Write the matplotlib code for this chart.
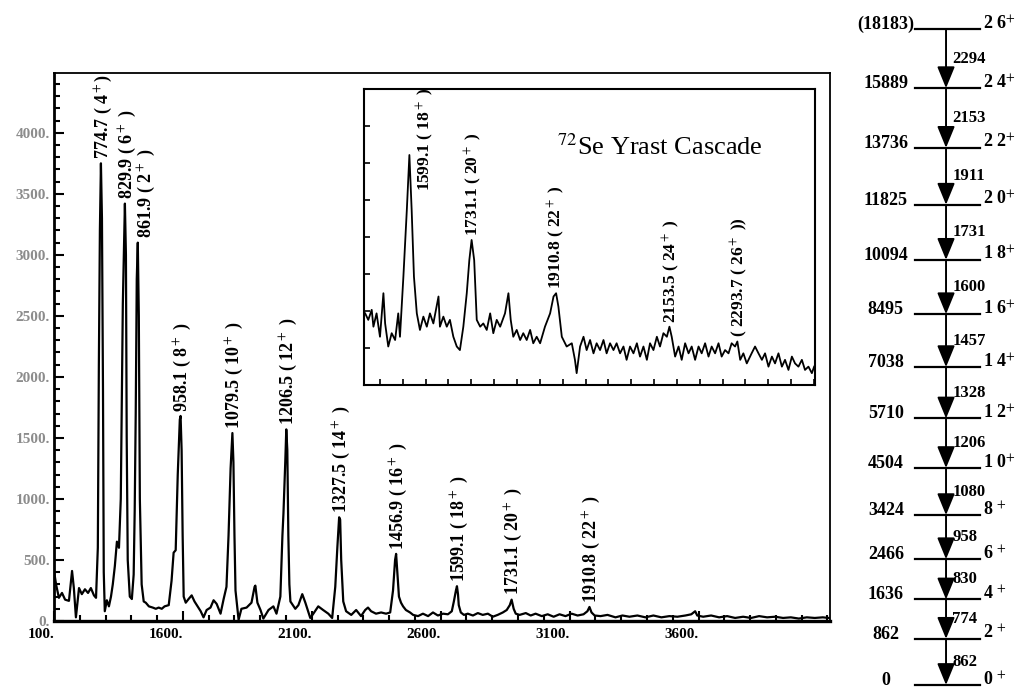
import numpy as np
import matplotlib
matplotlib.use("Agg")
import matplotlib.pyplot as plt
from matplotlib.ticker import MultipleLocator
from matplotlib.transforms import ScaledTranslation

plt.rcParams["font.family"] = "serif"
plt.rcParams["font.serif"] = ["Liberation Serif", "DejaVu Serif"]
plt.rcParams["mathtext.fontset"] = "stix"

# full gamma spectrum (channel, counts)
main_channel = [
    1100, 1108, 1119, 1131, 1143, 1158, 1170, 1177, 1185, 1197, 1208, 1220, 1232, 1243, 1255, 1263,
    1270, 1274, 1278, 1282, 1286, 1290, 1293, 1297, 1305, 1313, 1321, 1328, 1336, 1344, 1352, 1359,
    1367, 1375, 1379, 1382, 1386, 1394, 1402, 1409, 1413, 1417, 1421, 1425, 1429, 1433, 1440, 1448,
    1456, 1468, 1483, 1495, 1506, 1518, 1529, 1545, 1556, 1564, 1572, 1580, 1588, 1591, 1595, 1599,
    1603, 1611, 1622, 1634, 1645, 1657, 1669, 1680, 1692, 1707, 1719, 1731, 1746, 1758, 1769, 1777,
    1785, 1792, 1796, 1800, 1804, 1816, 1827, 1847, 1866, 1878, 1881, 1889, 1901, 1912, 1932, 1951,
    1963, 1978, 1986, 1990, 1997, 2001, 2005, 2009, 2013, 2017, 2036, 2048, 2063, 2075, 2094, 2106,
    2125, 2144, 2164, 2179, 2191, 2199, 2206, 2210, 2214, 2222, 2233, 2253, 2272, 2291, 2307, 2318,
    2330, 2349, 2369, 2388, 2404, 2415, 2423, 2427, 2431, 2438, 2446, 2454, 2465, 2481, 2493, 2512,
    2531, 2551, 2570, 2589, 2609, 2628, 2643, 2651, 2659, 2663, 2667, 2670, 2678, 2690, 2705, 2725,
    2744, 2763, 2783, 2802, 2821, 2841, 2856, 2868, 2875, 2883, 2891, 2906, 2930, 2949, 2968, 2992,
    3015, 3038, 3061, 3084, 3108, 3131, 3154, 3169, 3177, 3185, 3197, 3220, 3247, 3278, 3305, 3332,
    3363, 3394, 3425, 3456, 3487, 3518, 3549, 3572, 3587, 3595, 3618, 3649, 3680, 3711, 3742, 3773,
    3804, 3835, 3866, 3897, 3928, 3958, 3989, 4020, 4051, 4082, 4105,
]
main_counts = [
    410, 300, 190, 230, 175, 165, 410, 270, 30, 270, 220, 260, 230, 270, 210, 190,
    600, 2100, 3200, 3750, 3300, 1900, 400, 80, 170, 120, 200, 300, 450, 650, 600, 1000,
    2600, 3420, 3000, 1500, 500, 200, 180, 380, 900, 1700, 2800, 3100, 2500, 1000, 300, 160,
    150, 120, 110, 100, 110, 100, 120, 130, 330, 560, 580, 1200, 1650, 1680, 1400, 700,
    200, 150, 180, 210, 160, 120, 80, 30, 90, 110, 170, 140, 60, 180, 280, 700,
    1250, 1540, 1300, 700, 250, 10, 100, 110, 150, 280, 290, 150, 90, 20, 90, 120,
    60, 200, 700, 880, 1300, 1570, 1400, 700, 300, 160, 100, 130, 220, 150, 25, 60,
    120, 90, 60, 25, 280, 600, 850, 830, 500, 160, 80, 50, 90, 40, 90, 110,
    80, 60, 70, 60, 70, 250, 500, 550, 420, 200, 150, 120, 90, 70, 50, 40,
    60, 40, 70, 45, 60, 55, 80, 160, 250, 285, 220, 130, 70, 50, 60, 45,
    65, 50, 60, 35, 50, 70, 90, 130, 175, 100, 60, 50, 65, 45, 60, 40,
    55, 35, 55, 40, 60, 45, 55, 80, 115, 70, 45, 40, 50, 30, 45, 35,
    45, 30, 45, 30, 40, 35, 45, 55, 80, 45, 35, 45, 30, 40, 25, 35,
    25, 40, 30, 35, 25, 30, 20, 30, 25, 30, 25,
]

# expanded high-energy part (channel, counts on the inset scale)
inset_channel = [
    2508, 2519, 2531, 2537, 2548, 2560, 2572, 2578, 2589, 2601, 2613, 2624, 2630, 2642, 2654, 2663,
    2671, 2679, 2689, 2700, 2712, 2724, 2735, 2747, 2765, 2770, 2782, 2794, 2805, 2817, 2829, 2840,
    2852, 2864, 2873, 2881, 2890, 2899, 2911, 2922, 2934, 2946, 2957, 2969, 2981, 2998, 3010, 3018,
    3027, 3039, 3051, 3062, 3074, 3086, 3097, 3109, 3121, 3138, 3156, 3168, 3177, 3185, 3197, 3214,
    3232, 3243, 3249, 3261, 3273, 3284, 3296, 3308, 3319, 3331, 3343, 3354, 3366, 3378, 3389, 3401,
    3413, 3424, 3436, 3448, 3460, 3471, 3483, 3495, 3506, 3518, 3530, 3541, 3553, 3565, 3574, 3582,
    3594, 3606, 3617, 3629, 3641, 3652, 3664, 3676, 3687, 3699, 3711, 3722, 3734, 3746, 3757, 3769,
    3781, 3792, 3804, 3812, 3822, 3833, 3845, 3862, 3874, 3886, 3898, 3909, 3921, 3933, 3944, 3956,
    3968, 3979, 3991, 4003, 4014, 4026, 4038, 4049, 4061, 4073, 4081,
]
inset_counts = [
    24.2, 22.0, 25.4, 19.7, 24.2, 16.3, 31.0, 20.8, 13.0, 17.5, 15.2, 24.2, 16.3, 36.6, 59.1, 77.7,
    59.1, 36.6, 24.2, 18.6, 23.1, 19.7, 24.2, 20.8, 29.9, 19.7, 23.1, 19.7, 22.0, 16.3, 13.0, 11.8,
    19.7, 31.0, 42.2, 49.0, 42.2, 22.0, 19.7, 20.8, 18.6, 24.2, 17.5, 22.0, 19.7, 24.2, 31.0, 22.0,
    16.3, 18.6, 15.2, 17.5, 15.2, 18.6, 14.1, 16.3, 14.1, 19.7, 24.2, 29.9, 31.0, 26.5, 16.3, 13.0,
    14.1, 8.5, 4.0, 13.0, 16.3, 11.8, 15.2, 10.7, 14.1, 11.8, 15.2, 10.7, 14.1, 11.8, 14.1, 10.7,
    13.0, 8.5, 13.0, 10.7, 14.1, 9.6, 13.0, 8.5, 14.1, 11.8, 16.3, 13.0, 17.5, 16.3, 19.7, 16.3,
    9.6, 13.0, 8.5, 14.1, 10.7, 13.0, 8.5, 13.0, 10.7, 14.1, 9.6, 13.0, 10.7, 14.1, 9.6, 11.8,
    10.7, 14.1, 13.0, 14.7, 8.5, 10.7, 7.3, 10.7, 13.0, 10.7, 8.5, 10.7, 6.2, 9.6, 7.3, 10.7,
    6.2, 8.5, 5.1, 9.6, 7.3, 6.2, 8.5, 5.1, 6.2, 4.0, 6.2,
]

# yrast lines marked in the full spectrum
main_peak_channel = [1282, 1375, 1425, 1591, 1792, 2001, 2206, 2427, 2663, 2875, 3177]
main_peak_label = ["774.7 ( 4$^+$)", "829.9 ( 6$^+$ )", "861.9 ( 2$^+$ )", "958.1 ( 8$^+$ )",
                   "1079.5 ( 10$^+$ )", "1206.5 ( 12$^+$ )", "1327.5 ( 14$^+$ )",
                   "1456.9 ( 16$^+$ )", "1599.1 ( 18$^+$ )", "1731.1 ( 20$^+$ )",
                   "1910.8 ( 22$^+$ )"]

inset_peak_channel = [2663, 2881, 3177, 3574, 3812]
inset_peak_label = ["1599.1 ( 18$^+$ )", "1731.1 ( 20$^+$ )", "1910.8 ( 22$^+$ )",
                    "2153.5 ( 24$^+$ )", "( 2293.7 ( 26$^+$ ))"]

x_ticks = [1100, 1600, 2100, 2600, 3100, 3600]
x_tick_labels = ["100.", "1600.", "2100.", "2600.", "3100.", "3600."]
y_ticks = [0, 500, 1000, 1500, 2000, 2500, 3000, 3500, 4000]
y_tick_labels = ["0.", "500.", "1000.", "1500.", "2000.", "2500.", "3000.", "3500.", "4000."]

# level scheme
level_energy = [0, 862, 1636, 2466, 3424, 4504, 5710, 7038, 8495, 10094, 11825, 13736, 15889, 18183]
level_label = ["0", "862", "1636", "2466", "3424", "4504", "5710", "7038", "8495", "10094",
               "11825", "13736", "15889", "(18183)"]
level_spin = [0, 2, 4, 6, 8, 10, 12, 14, 16, 18, 20, 22, 24, 26]
gamma_energy = [862, 774, 830, 958, 1080, 1206, 1328, 1457, 1600, 1731, 1911, 2153, 2294]

W, H = 1027, 689
fig = plt.figure(figsize=(W / 100, H / 100), dpi=100)

# ---- full spectrum
ax = fig.add_axes([54 / W, (H - 621) / H, 776 / W, 548 / H])
ax.plot(main_channel, main_counts, color="black", lw=1.6)
ax.set_xlim(1100, 4110)
ax.set_ylim(0, 4490)
for s in ax.spines.values():
    s.set_linewidth(1.3)
ax.spines["left"].set_linewidth(2.0)
ax.spines["bottom"].set_linewidth(2.4)

ax.set_xticks(x_ticks)
ax.set_xticklabels(x_tick_labels, fontsize=11, fontweight="bold", ha="right")
shift = ScaledTranslation(9 / 100, 0, fig.dpi_scale_trans)
for lbl in ax.get_xticklabels():
    lbl.set_transform(lbl.get_transform() + shift)
ax.set_yticks(y_ticks)
ax.set_yticklabels(y_tick_labels, fontsize=11, color="#8c8c8c", fontweight="bold")
ax.xaxis.set_minor_locator(MultipleLocator(100))
ax.yaxis.set_minor_locator(MultipleLocator(100))
ax.tick_params(which="both", direction="in", top=False, right=False, width=1.5)
ax.tick_params(which="major", length=7)
ax.tick_params(which="minor", length=4)
ax.tick_params(axis="x", pad=5)
ax.tick_params(axis="y", pad=3)

main_lookup = dict(zip(main_channel, main_counts))
main_nudge = [(2, 3), (1.5, 3), (6, 3)] + [(1.5, 3)] * 8
for ch, lab, (dx, dy) in zip(main_peak_channel, main_peak_label, main_nudge):
    ax.annotate(lab, xy=(ch, main_lookup[ch]), xytext=(dx, dy), textcoords="offset points",
                rotation=90, ha="center", va="bottom", fontsize=13, fontweight="bold")

# ---- inset: high-energy part of the cascade
axi = fig.add_axes([364 / W, (H - 385) / H, 451 / W, 296 / H])
axi.plot(inset_channel, inset_counts, color="black", lw=1.3)
axi.set_xlim(2504, 4084)
axi.set_ylim(0, 100)
for s in axi.spines.values():
    s.set_linewidth(1.5)
axi.xaxis.set_major_locator(MultipleLocator(80))
axi.yaxis.set_major_locator(MultipleLocator(12.5))
axi.tick_params(direction="in", length=4, width=1.2, top=False, right=False,
                labelbottom=False, labelleft=False)
axi.text(0.656, 0.804, "$^{72}$Se Yrast Cascade", transform=axi.transAxes,
         ha="center", va="center", fontsize=19)

inset_lookup = dict(zip(inset_channel, inset_counts))
inset_nudge = [(11.5, -26), (1, 3), (0, 3), (1, 3), (1, 3)]
for ch, lab, (dx, dy) in zip(inset_peak_channel, inset_peak_label, inset_nudge):
    axi.annotate(lab, xy=(ch, inset_lookup[ch]), xytext=(dx, dy), textcoords="offset points",
                 rotation=90, ha="center", va="bottom", fontsize=12.5, fontweight="bold",
                 annotation_clip=False)

# ---- level scheme
axl = fig.add_axes([840 / W, (H - 685) / H, 187 / W, 656 / H])


def fwd(e):
    return np.log1p(np.asarray(e, dtype=float) / 15000.0)


def inv(v):
    return 15000.0 * np.expm1(np.asarray(v, dtype=float))


axl.set_yscale("function", functions=(fwd, inv))
axl.set_ylim(0, 18183)
axl.set_xlim(0, 1)
axl.axis("off")

arrow_x = 0.567
for e, lab, spin in zip(level_energy, level_label, level_spin):
    axl.plot([0.40, 0.75], [e, e], color="black", lw=1.6, clip_on=False)
    axl.text(0.245, e, lab, ha="center", va="baseline", fontsize=13, fontweight="bold",
             clip_on=False)
    sp = " ".join(str(spin)) if spin >= 10 else f"{spin} "
    axl.text(0.765, e, sp + "$^{+}$", ha="left", va="baseline", fontsize=13,
             fontweight="bold", clip_on=False)

for lo, hi, eg in zip(level_energy[:-1], level_energy[1:], gamma_energy):
    axl.annotate("", xy=(arrow_x, lo), xytext=(arrow_x, hi),
                 arrowprops=dict(arrowstyle="-|>,head_length=1.1,head_width=0.45",
                                 color="black", lw=1.4, mutation_scale=12,
                                 shrinkA=0, shrinkB=0))
    ymid = inv(0.5 * (fwd(lo) + fwd(hi)))
    axl.text(0.60, ymid, str(eg), ha="left", va="center", fontsize=12,
             fontweight="bold", clip_on=False)

fig.savefig("out.png", dpi=100)
